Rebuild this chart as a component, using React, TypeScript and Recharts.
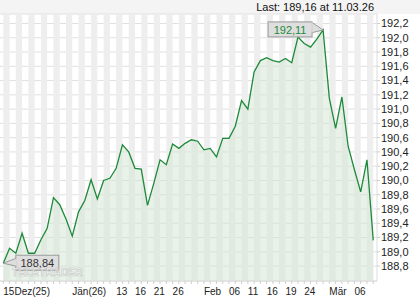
import React from 'react';
import { AreaChart, Area, XAxis, YAxis, CartesianGrid, ReferenceDot, ReferenceArea } from 'recharts';

const values = [
  188.84, 189.05, 188.98, 189.26, 188.98, 188.98, 189.17, 189.33, 189.76, 189.66,
  189.46, 189.22, 189.56, 189.72, 190.01, 189.74, 190.0, 190.03, 190.17, 190.5,
  190.4, 190.17, 190.16, 189.65, 189.96, 190.29, 190.22, 190.51, 190.45, 190.52,
  190.57, 190.55, 190.43, 190.45, 190.33, 190.59, 190.59, 190.76, 191.12, 191.0,
  191.52, 191.68, 191.72, 191.68, 191.66, 191.71, 191.65, 192.01, 191.92, 191.87,
  191.98, 192.11, 191.15, 190.73, 191.17, 190.48, 190.15, 189.84, 190.29, 189.16,
];

const tickPos = [0, 11, 18, 21, 24, 27, 32, 36, 39, 42, 45, 48, 52, 56];
const tickText = ['15Dez(25)', 'Jän(26)', '13', '16', '21', '26', 'Feb', '06', '11', '16', '19', '24', 'Mär', '06'];
const yTicks = [188.8, 189.0, 189.2, 189.4, 189.6, 189.8, 190.0, 190.2, 190.4, 190.6, 190.8, 191.0, 191.2, 191.4, 191.6, 191.8, 192.0, 192.2];
const lastText = 'Last: 189,16 at 11.03.26';
const brand = 'TELETRADER';

const data = values.map((v, i) => ({ i, v }));
const allTicks = values.map((_, i) => i);
const stripeStarts = allTicks.filter((i) => i % 2 === 0);
const FONT = '"Liberation Sans", Arial, sans-serif';
const fmt = (v: number) => v.toFixed(2).replace('.', ',');
const maxV = Math.max(...values);
const minV = Math.min(...values);
const maxI = values.indexOf(maxV);
const minI = values.indexOf(minV);

const XTick = (props: any) => {
  const { x, y, payload } = props;
  const k = tickPos.indexOf(payload.value);
  if (k < 0) return <g />;
  return (
    <text x={x} y={y} dy={9} textAnchor="start" fontSize={10} fill="#222" fontFamily={FONT}>
      {tickText[k]}
    </text>
  );
};

const MaxCallout = (props: any) => {
  const { cx, cy } = props;
  return (
    <g>
      <polygon points={`${cx - 12},${cy - 8} ${cx},${cy} ${cx - 12},${cy + 3}`} fill="#dedede" stroke="#9a9a9a" strokeWidth={1} />
      <rect x={cx - 55} y={cy - 8} width={44} height={15} fill="#dedede" stroke="#9a9a9a" strokeWidth={1} />
      <line x1={cx - 11} y1={cy - 7.5} x2={cx - 11} y2={cy + 2.5} stroke="#dedede" strokeWidth={1.5} />
      <text x={cx - 33} y={cy + 4} textAnchor="middle" fontSize={11} fill="#1d8a3a" fontFamily={FONT}>{fmt(maxV)}</text>
    </g>
  );
};

const MinCallout = (props: any) => {
  const { cx, cy } = props;
  return (
    <g>
      <polygon points={`${cx + 13},${cy - 5} ${cx},${cy} ${cx + 13},${cy + 3}`} fill="#dedede" stroke="#9a9a9a" strokeWidth={1} />
      <rect x={cx + 12.5} y={cy - 8} width={43} height={15} fill="#dedede" stroke="#9a9a9a" strokeWidth={1} />
      <line x1={cx + 12.5} y1={cy - 4.5} x2={cx + 12.5} y2={cy + 2.5} stroke="#dedede" strokeWidth={1.5} />
      <text x={cx + 34} y={cy + 3.5} textAnchor="middle" fontSize={11} fill="#333" fontFamily={FONT}>{fmt(minV)}</text>
    </g>
  );
};

export default function App() {
  return (
    <div style={{ position: 'absolute', left: 0, top: 0, width: 420, height: 300, background: '#fff', overflow: 'hidden' }}>
      <div style={{ position: 'absolute', left: 0, top: 0, width: 420, height: 14, background: '#f4f4f4' }} />
      <div
        style={{
          position: 'absolute', right: 46, top: 0, height: 14, lineHeight: '14px',
          fontSize: 11, fontFamily: FONT, color: '#111', whiteSpace: 'nowrap',
        }}
      >
        {lastText}
      </div>
      <AreaChart width={420} height={300} data={data} margin={{ top: 14, right: 0, left: 0, bottom: 0 }}>
        <XAxis
          dataKey="i"
          type="number"
          domain={[-0.526, 59.6]}
          allowDataOverflow
          ticks={allTicks}
          interval={0}
          height={19}
          tickSize={3}
          tickLine={{ stroke: '#cfcfcf' }}
          axisLine={{ stroke: '#dcdcdc' }}
          tick={<XTick />}
        />
        <YAxis
          orientation="right"
          type="number"
          domain={[188.591, 192.333]}
          allowDataOverflow
          ticks={yTicks}
          interval={0}
          width={43}
          tickSize={3}
          tickMargin={1}
          tickLine={{ stroke: '#cfcfcf' }}
          axisLine={{ stroke: '#dcdcdc' }}
          tickFormatter={(v: number) => v.toFixed(1).replace('.', ',')}
          tick={{ fontSize: 11, fill: '#222', fontFamily: FONT }}
        />
        {stripeStarts.map((s) => (
          <ReferenceArea
            key={`st${s}`}
            x1={s}
            x2={s + 1}
            fill="#eeeeee"
            fillOpacity={1}
            strokeOpacity={0}
          />
        ))}
        <CartesianGrid stroke="#e0e0e0" vertical={false} horizontal />
        <Area
          type="linear"
          dataKey="v"
          stroke="#1d8a3a"
          strokeWidth={1.3}
          fill="#d3e5d3"
          fillOpacity={0.5}
          dot={false}
          activeDot={false}
          isAnimationActive={false}
        />
        <ReferenceDot x={maxI} y={maxV} r={0} shape={<MaxCallout />} />
        <ReferenceDot x={minI} y={minV} r={0} shape={<MinCallout />} />
      </AreaChart>
      <div
        style={{
          position: 'absolute', left: 12, top: 267, fontSize: 10, fontWeight: 'bold', fontFamily: FONT,
          color: 'rgba(255,255,255,0.6)', WebkitTextStroke: '0.6px #c4c4c4', letterSpacing: 0.4, lineHeight: '11px',
        }}
      >
        {brand}
      </div>
    </div>
  );
}
